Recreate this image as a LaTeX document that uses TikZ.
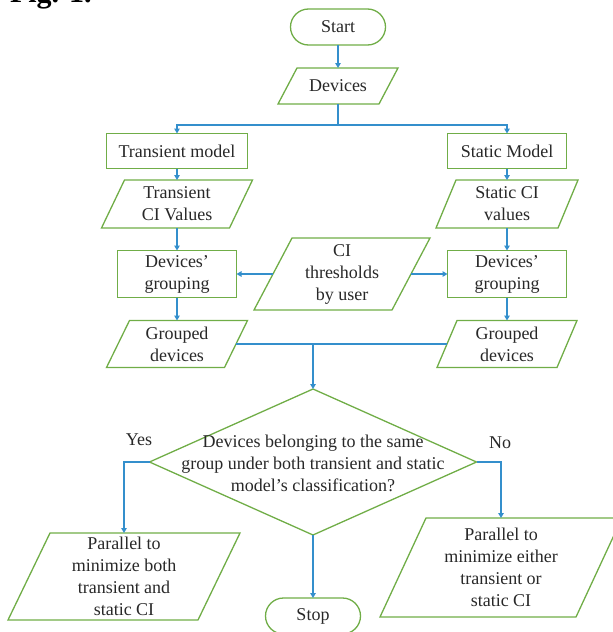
\documentclass[tikz,border=0pt]{standalone}
\usepackage{fontspec}
\setmainfont{Liberation Serif}
\usetikzlibrary{shapes.geometric,arrows.meta,calc}
\definecolor{bgreen}{RGB}{112,173,71}
\definecolor{lblue}{RGB}{52,143,204}
\definecolor{txt}{RGB}{40,40,40}
\newcommand\parabox[7]{% name, cx, cy, w, h, half slant, text
  \node[minimum width=#4pt, minimum height=#5pt] (#1) at (#2,#3) {#7};
  \draw[parashape] ([xshift=#6pt]#1.north west) -- ([xshift=#6pt]#1.north east)
    -- ([xshift=-#6pt]#1.south east) -- ([xshift=-#6pt]#1.south west) -- cycle;
}
\begin{document}
\begin{tikzpicture}[x=1pt,y=-1pt,
  every node/.style={font=\rmfamily\fontsize{18}{22}\selectfont, text=txt, align=center, inner sep=0pt, outer sep=0pt},
  boxnode/.style={draw=bgreen, line width=1.3pt, rectangle},
  termnode/.style={draw=bgreen, line width=1.3pt, rectangle, rounded corners=18pt, minimum width=95pt, minimum height=36pt},
  parashape/.style={draw=bgreen, line width=1.3pt, line join=miter},
  flow/.style={draw=lblue, line width=1.3pt, -{Triangle[width=5.5pt,length=5pt]}},
  plain/.style={draw=lblue, line width=1.3pt},
]
\useasboundingbox (0,0) rectangle (613,632);

\node[font=\rmfamily\fontsize{30}{30}\selectfont\bfseries, text=black, anchor=base west] (fig) at (10,2) {Fig. 1.};

\node[termnode] (start) at (338,27) {Start};
\parabox{dev}{338}{86}{101}{36}{9.5}{Devices}

\node[boxnode, minimum width=141pt, minimum height=35pt] (tm) at (177,151) {Transient model};
\node[boxnode, minimum width=119pt, minimum height=35pt] (sm) at (507,151) {Static Model};

\parabox{tcv}{177}{204}{128}{48}{11.5}{Transient\\CI Values}
\parabox{scv}{507}{204}{122}{48}{10}{Static CI\\values}

\node[boxnode, minimum width=119pt, minimum height=47pt] (dgl) at (177,274) {Devices’\\grouping};
\node[boxnode, minimum width=119pt, minimum height=47pt] (dgr) at (507,274) {Devices’\\grouping};
\parabox{ci}{342}{274}{138}{72}{19}{CI\\thresholds\\by user}

\parabox{gdl}{177}{344}{118}{47}{11.5}{Grouped\\devices}
\parabox{gdr}{507}{344}{120}{47}{10}{Grouped\\devices}

\node[diamond, draw=bgreen, line width=1.3pt, minimum width=327pt, minimum height=146pt, aspect=2.24] (dec) at (313,462) {};
\node (dect) at (313,463) {Devices belonging to the same\\group under both transient and static\\model’s classification?};
\node (yes) at (139,440) {Yes};
\node (no) at (500,443) {No};

\parabox{lp}{124}{576.5}{190}{87}{21}{Parallel to\\minimize both\\transient and\\static CI}
\parabox{rp}{501}{567.5}{196}{99}{23}{Parallel to\\minimize either\\transient or\\static CI}
\node[termnode] (stop) at (313,616) {Stop};

% connectors
\draw[flow] (start) -- (dev);
\coordinate (jt) at ($(dev.south)+(0,21)$);
\draw[plain] (dev.south) -- (jt);
\draw[flow] (jt) -| (tm.north);
\draw[flow] (jt) -| (sm.north);
\draw[flow] (tm) -- (tcv);
\draw[flow] (sm) -- (scv);
\draw[flow] (tcv) -- (dgl);
\draw[flow] (scv) -- (dgr);
\draw[flow] (ci.west) -- (dgl.east);
\draw[flow] (ci.east) -- (dgr.west);
\draw[flow] (dgl) -- (gdl);
\draw[flow] (dgr) -- (gdr);
\draw[plain] (gdl.east) -- (gdr.west);
\coordinate (jm) at (dec.north |- gdl.east);
\draw[flow] (jm) -- (dec.north);
\draw[flow] (dec.west) -| (lp.north);
\draw[flow] (dec.east) -| (rp.north);
\draw[flow] (dec.south) -- (stop.north);
\end{tikzpicture}
\end{document}
